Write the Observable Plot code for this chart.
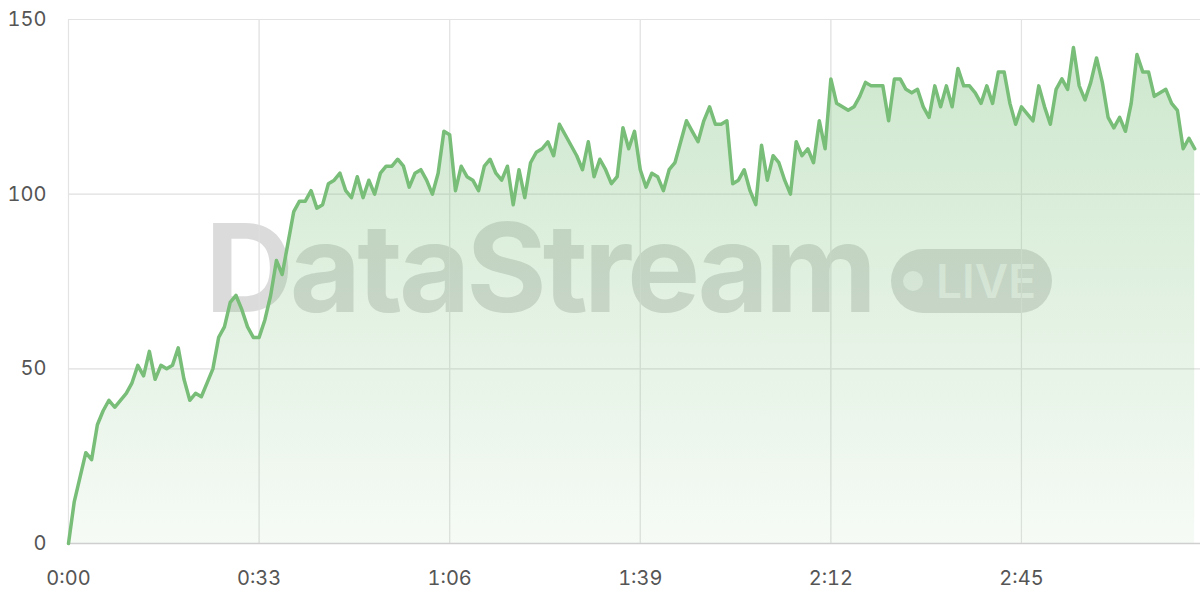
<!DOCTYPE html>
<html>
<head>
<meta charset="utf-8">
<script src="https://cdn.jsdelivr.net/npm/d3@7"></script>
<script src="https://cdn.jsdelivr.net/npm/@observablehq/plot@0.6"></script>
<style>
  html, body { margin: 0; padding: 0; background: #fff; }
  #wrap { position: relative; width: 1200px; height: 600px; overflow: hidden; }
  #wm { position: absolute; left: 0; top: 0; width: 1200px; height: 600px; pointer-events: none; }
  #wm .brand { position: absolute; left: 205px; top: 206px; font-family: Inter, "DejaVu Sans", sans-serif; font-weight: 700; font-size: 123px; letter-spacing: -4px; color: rgba(105,105,105,0.24); line-height: 1; white-space: nowrap; }
  #wm .pill { position: absolute; left: 891px; top: 249px; width: 161px; height: 64px; border-radius: 32px; background: rgba(105,105,105,0.24); }
  #wm .dot { position: absolute; left: 12px; top: 22px; width: 20px; height: 20px; border-radius: 50%; background: rgba(255,255,255,0.6); }
  #wm .live { position: absolute; left: 45px; top: 7px; font-family: Inter, "DejaVu Sans", sans-serif; font-weight: 600; font-size: 46px; color: rgba(255,255,255,0.6); line-height: 1.1; letter-spacing: 0px; }
  #chart { position: absolute; left: 0; top: 0; }
</style>
</head>
<body>
<div id="wrap">
  <div id="wm"><div class="brand">DataStream</div><div class="pill"><div class="dot"></div><div class="live">LIVE</div></div></div>
  <div id="chart"></div>
</div>
<script>
// seconds elapsed, one reading per second
const values = [
  0, 12, 19, 26, 24, 34, 38, 41, 39, 41,
  43, 46, 51, 48, 55, 47, 51, 50, 51, 56,
  47, 41, 43, 42, 46, 50, 59, 62, 69, 71,
  67, 62, 59, 59, 64, 71, 81, 77, 86, 95,
  98, 98, 101, 96, 97, 103, 104, 106, 101, 99,
  105, 99, 104, 100, 106, 108, 108, 110, 108, 102,
  106, 107, 104, 100, 106, 118, 117, 101, 108, 105,
  104, 101, 108, 110, 106, 104, 108, 97, 107, 99,
  109, 112, 113, 115, 111, 120, 117, 114, 111, 107,
  115, 105, 110, 107, 103, 105, 119, 113, 118, 107,
  102, 106, 105, 101, 107, 109, 115, 121, 118, 115,
  121, 125, 120, 120, 121, 103, 104, 107, 101, 97,
  114, 104, 111, 109, 104, 100, 115, 111, 113, 109,
  121, 113, 133, 126, 125, 124, 125, 128, 132, 131,
  131, 131, 121, 133, 133, 130, 129, 130, 125, 122,
  131, 125, 131, 125, 136, 131, 131, 129, 126, 131,
  126, 135, 135, 126, 120, 125, 123, 121, 131, 125,
  120, 130, 133, 130, 142, 131, 127, 132, 139, 132,
  122, 119, 122, 118, 126, 140, 135, 135, 128, 129,
  130, 126, 124, 113, 116, 113
];
const seconds = values.map((_, i) => i);
const xTicks = [0, 33, 66, 99, 132, 165];
const yTicks = [0, 50, 100, 150];

const data = seconds.map((t, i) => ({t, v: values[i]}));
const fmt = d => `${Math.floor(d / 60)}:${String(d % 60).padStart(2, "0")}`;

const defs = () => {
  const g = d3.create("svg:defs");
  const lg = g.append("linearGradient").attr("id", "areaGrad").attr("x1", 0).attr("y1", 0).attr("x2", 0).attr("y2", 1);
  lg.append("stop").attr("offset", "0%").attr("stop-color", "#7cc07c").attr("stop-opacity", 0.38);
  lg.append("stop").attr("offset", "100%").attr("stop-color", "#7cc07c").attr("stop-opacity", 0.07);
  return g.node();
};

const chart = Plot.plot({
  width: 1200,
  height: 600,
  marginLeft: 68,
  marginRight: 0,
  marginTop: 19,
  marginBottom: 57,
  style: {background: "transparent", fontFamily: "Inter, 'DejaVu Sans', sans-serif", fontSize: "20px", color: "#555"},
  x: {domain: [0, 196], ticks: xTicks, tickFormat: fmt, tickSize: 0, tickPadding: 27, label: null, grid: true},
  y: {domain: [0, 150], ticks: yTicks, tickSize: 0, tickPadding: 22, label: null, grid: true},
  marks: [
    defs,
    Plot.gridX(xTicks, {stroke: "#e3e3e3", strokeOpacity: 1, strokeWidth: 1.2}),
    Plot.gridY(yTicks, {stroke: "#e3e3e3", strokeOpacity: 1, strokeWidth: 1.2}),
    Plot.areaY(data, {x: "t", y: "v", fill: "url(#areaGrad)"}),
    Plot.ruleY([0], {stroke: "#cfcfcf", strokeWidth: 1.5}),
    Plot.lineY(data, {x: "t", y: "v", stroke: "#78bd78", strokeWidth: 3.5, strokeLinejoin: "round"})
  ]
});
document.getElementById("chart").appendChild(chart);
</script>
</body>
</html>
